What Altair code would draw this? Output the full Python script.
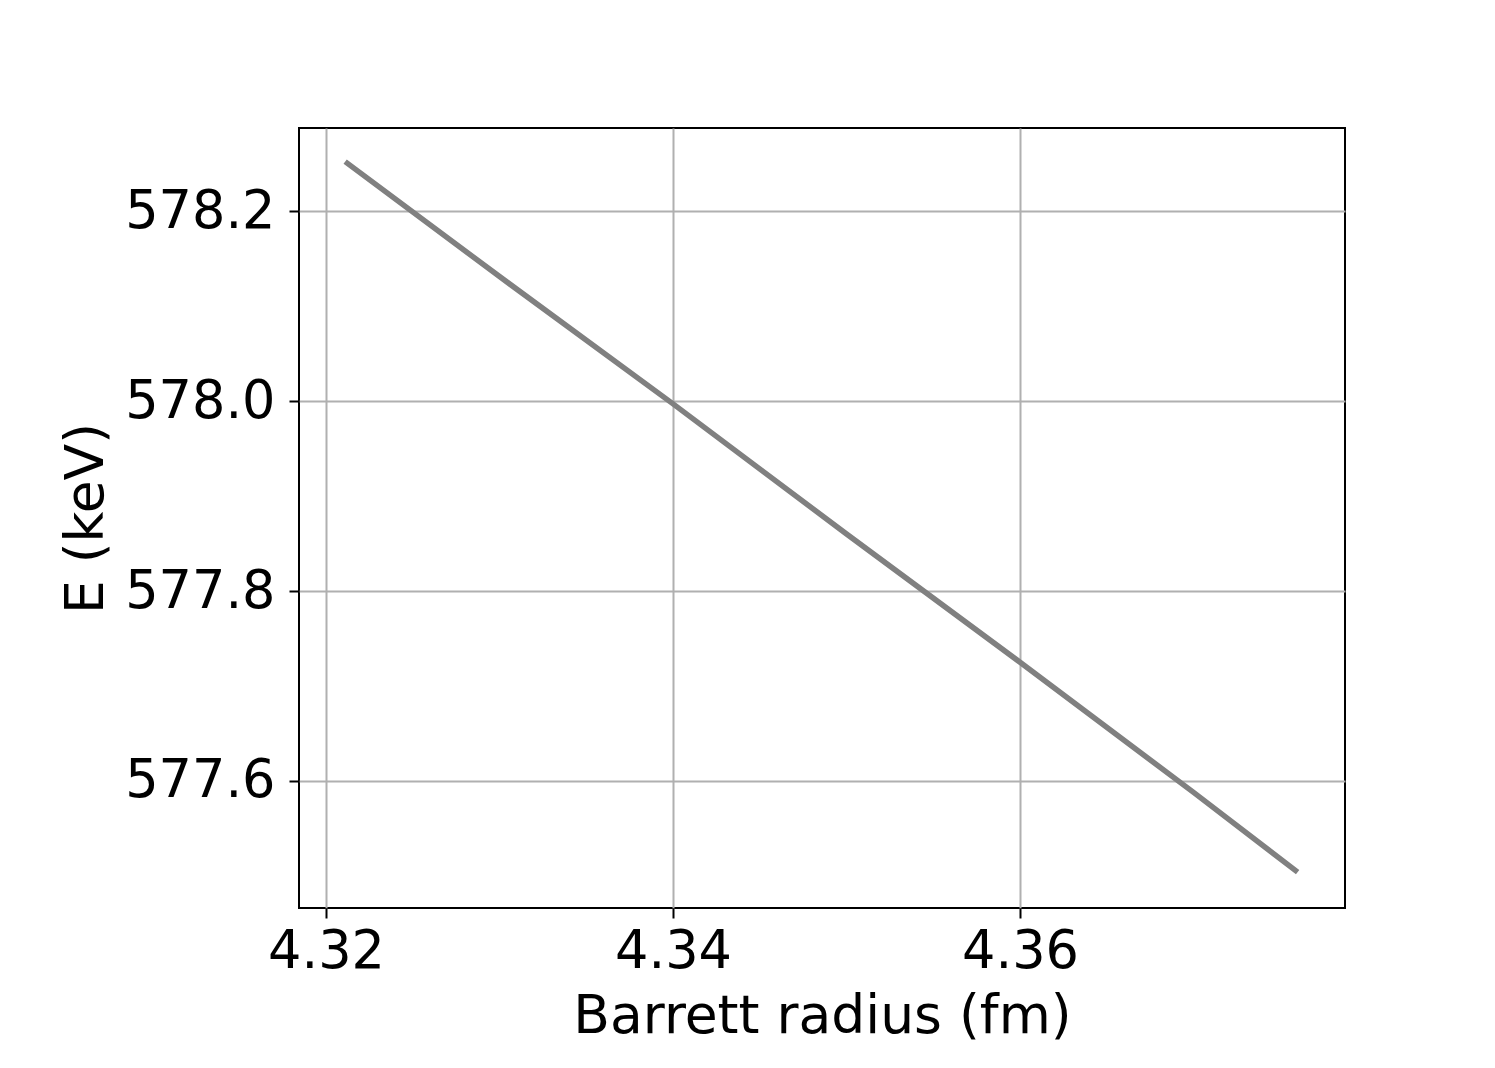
import altair as alt
import pandas as pd

radius = [4.3211, 4.33, 4.34, 4.35, 4.36, 4.37, 4.3760]
energy = [578.252, 578.131, 577.997, 577.860, 577.725, 577.588, 577.504]

x_ticks = [4.32, 4.34, 4.36]
y_ticks = [577.6, 577.8, 578.0, 578.2]

df = pd.DataFrame({"r": radius, "E": energy})

FONT = "DejaVu Sans"

chart = alt.Chart(df).mark_line(color="#808080", strokeWidth=5.5, strokeCap="butt").encode(
    x=alt.X("r:Q", scale=alt.Scale(domain=[4.31844, 4.37873], nice=False, zero=False),
            axis=alt.Axis(values=x_ticks, format=".2f", title="Barrett radius (fm)",
                          titleX=523, titleY=124, titleBaseline="alphabetic", titleAlign="center",
                          labelPadding=8)),
    y=alt.Y("E:Q", scale=alt.Scale(domain=[577.4663, 578.2874], nice=False, zero=False),
            axis=alt.Axis(values=y_ticks, format=".1f", title="E (keV)",
                          titleX=-197, titleY=390, titleAngle=-90, titleBaseline="alphabetic",
                          titleAlign="center", labelPadding=14)),
    order="r:Q",
).properties(
    width=1046, height=780,
    background="white",
    autosize=alt.AutoSizeParams(type="none"),
    padding={"left": 291, "top": 120, "right": 142, "bottom": 152},
).configure_view(
    stroke="black", strokeWidth=2
).configure_axis(
    grid=True, gridColor="#b0b0b0", gridWidth=2, gridOpacity=1,
    domain=False, ticks=True, tickColor="black", tickWidth=2, tickSize=10,
    labelFont=FONT, labelFontSize=52.5, labelColor="black",
    titleFont=FONT, titleFontSize=53.5, titleColor="black", titleFontWeight="normal",
    labelFlush=False, labelOverlap=False,
)

chart.save("out.html", embed_options={"renderer": "svg", "actions": False})
